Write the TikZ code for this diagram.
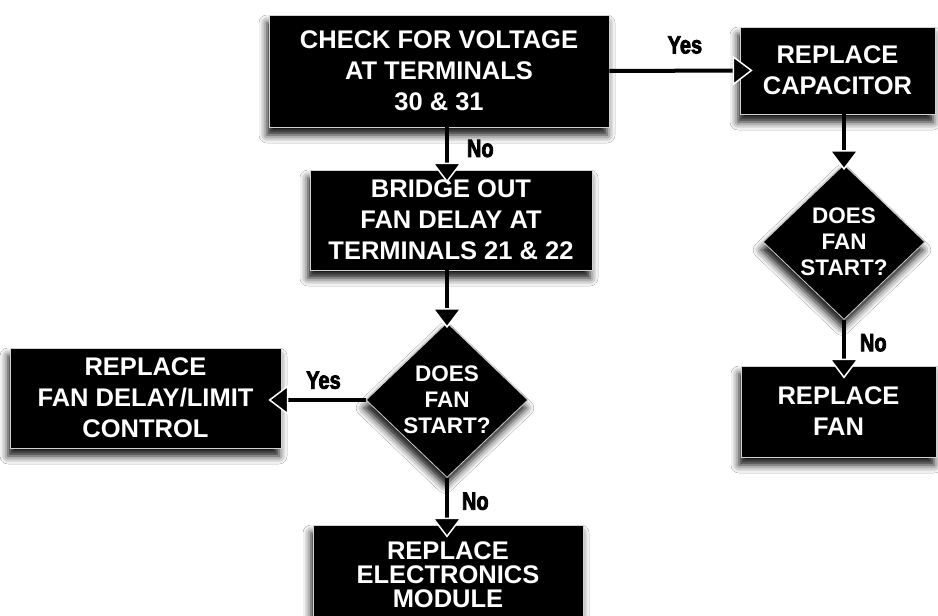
\documentclass[tikz,border=0pt]{standalone}
\usepackage{fontspec}
\setmainfont{Liberation Sans}
\newfontfamily\condfont[FakeStretch=0.8, FakeBold=3]{Liberation Sans Bold}
\usetikzlibrary{arrows.meta,shapes.geometric,shadows.blur}

\begin{document}
\begin{tikzpicture}[
    x=1pt, y=-1pt,
    box/.style={rectangle, fill=black, draw=gray!35, line width=0.8pt, text=white,
        font=\bfseries\fontsize{25.5}{31}\selectfont, align=center, inner sep=0pt,
        blur shadow={shadow xshift=-2pt, shadow yshift=-8pt, shadow blur radius=8pt, shadow opacity=95}},
    ask/.style={diamond, aspect=1, fill=black, draw=gray!35, line width=0.8pt, text=white,
        font=\bfseries\fontsize{22.5}{26}\selectfont, align=center, inner sep=0pt,
        minimum width=162pt, minimum height=152pt,
        blur shadow={shadow xshift=-2pt, shadow yshift=-8pt, shadow blur radius=8pt, shadow opacity=95}},
    flow/.style={line width=4pt, shorten >=-13pt,
        -{Triangle[width=30pt, length=20pt, color=white, fill=black, line width=1.5pt]}},
    lbl/.style={font=\condfont\fontsize{25}{25}\selectfont, inner sep=0pt}
]
    \useasboundingbox[fill=white] (0,0) rectangle (938,616);

    \node[box, minimum width=340pt, minimum height=112pt] (check) at (439,71)
        {CHECK FOR VOLTAGE\\AT TERMINALS\\30 \& 31};
    \node[box, minimum width=195pt, minimum height=87pt] (capac) at (837.5,70.5)
        {REPLACE\\CAPACITOR};
    \node[box, minimum width=282pt, minimum height=100pt] (bridge) at (451,220)
        {BRIDGE OUT\\FAN DELAY AT\\TERMINALS 21 \& 22};
    \node[ask] (askR) at (844,242) {DOES\\FAN\\START?};
    \node[box, minimum width=195pt, minimum height=91pt] (fan) at (838.5,411.5)
        {REPLACE\\FAN};
    \node[ask] (askL) at (447,400) {DOES\\FAN\\START?};
    \node[box, minimum width=271pt, minimum height=100pt] (delay) at (145.5,398)
        {REPLACE\\FAN DELAY/LIMIT\\CONTROL};
    \node[box, minimum width=270pt, minimum height=100pt,
        font=\bfseries\fontsize{25.5}{24}\selectfont] (module) at (448,575)
        {REPLACE\\ELECTRONICS\\MODULE};

    \draw[flow] (check.east) -- node[lbl, above=15pt, pos=0.58] (yes1) {Yes} (capac.west);
    \draw[flow] (check.south -| askL) -- node[lbl, right=18pt] (no1) {No} (bridge.north -| askL);
    \draw[flow, shorten >=-6pt] (capac.south -| askR) -- (askR.north);
    \draw[flow] (askR.south) -- node[lbl, right=14pt] (no2) {No} (fan.north -| askR);
    \draw[flow, shorten >=-6pt] (bridge.south -| askL) -- (askL.north);
    \draw[flow] (askL.west) -- node[lbl, above=9pt] (yes2) {Yes} (askL.west -| delay.east);
    \draw[flow] (askL.south) -- node[lbl, right=13pt] (no3) {No} (module.north -| askL);
\end{tikzpicture}
\end{document}
